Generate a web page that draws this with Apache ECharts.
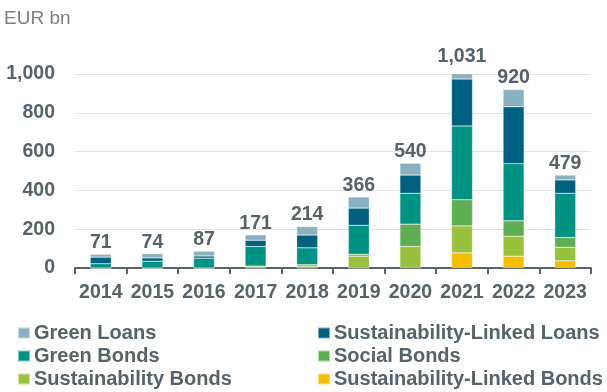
<!DOCTYPE html>
<html>
<head>
<meta charset="utf-8">
<script src="https://cdn.jsdelivr.net/npm/echarts@6/dist/echarts.min.js"></script>
<style>
html,body{margin:0;padding:0;background:#fff;}
#c{width:607px;height:392px;}
</style>
</head>
<body>
<div id="c"></div>
<script>
const years = ['2014','2015','2016','2017','2018','2019','2020','2021','2022','2023'];
const totals = [71, 74, 87, 171, 214, 366, 540, 1031, 920, 479];
const slBonds      = [0, 0, 0, 0, 0, 0, 2, 78, 61, 37];
const sustBonds    = [0, 0, 0, 10, 10, 61, 109, 139, 103, 70];
const socialBonds  = [0, 0, 0, 0, 7, 10, 115, 135, 79, 50];
const greenBonds   = [22, 35, 51, 101, 87, 149, 159, 380, 295, 228];
const slLoans      = [34, 17, 11, 32, 66, 89, 94, 242, 293, 69];
const greenLoans   = [15, 22, 25, 28, 44, 57, 61, 57, 89, 25];
const yTicks = [0, 200, 400, 600, 800, 1000];

const colors = {
  'Green Loans': '#8ab1bf',
  'Sustainability-Linked Loans': '#00607f',
  'Green Bonds': '#009384',
  'Social Bonds': '#5fae54',
  'Sustainability Bonds': '#98c13c',
  'Sustainability-Linked Bonds': '#f4bf00'
};

const font = 'Liberation Sans, Arial, sans-serif';
const txt = '#56636c';

function mk(name, data) {
  return {
    name: name,
    type: 'bar',
    stack: 'total',
    data: data,
    barWidth: 21,
    itemStyle: { color: colors[name], borderColor: 'rgba(255,255,255,0.5)', borderWidth: 0.5 },
    emphasis: { disabled: true }
  };
}

function leg(name, left, top) {
  return {
    data: [name], left: left, top: top, padding: 0,
    itemWidth: 12, itemHeight: 11, icon: 'rect', selectedMode: false,
    textStyle: { fontFamily: font, fontWeight: 'bold', fontSize: 20, color: txt, padding: [0, 0, 0, -1] }
  };
}

const chart = echarts.init(document.getElementById('c'), null, { renderer: 'canvas' });
chart.setOption({
  animation: false,
  textStyle: { fontFamily: font },
  title: {
    text: 'EUR bn', left: 4, top: 9, padding: 0,
    textStyle: { fontFamily: font, fontSize: 19, fontWeight: 'normal', color: '#7f7f7f' }
  },
  grid: { left: 75, right: 16, top: 74, bottom: 124 },
  xAxis: {
    type: 'category', data: years, boundaryGap: true,
    axisLine: { lineStyle: { color: '#56636c', width: 2 } },
    axisTick: { show: true, length: 6, lineStyle: { color: '#56636c', width: 2 } },
    axisLabel: { fontFamily: font, fontWeight: 'bold', fontSize: 19.5, color: txt, margin: 15, interval: 0 }
  },
  yAxis: {
    type: 'value', min: yTicks[0], max: yTicks[yTicks.length - 1], interval: 200,
    axisLine: { show: false }, axisTick: { show: false },
    splitLine: { lineStyle: { color: '#dde3e7', width: 1 } },
    axisLabel: {
      fontFamily: font, fontWeight: 'bold', fontSize: 19.5, color: txt, margin: 20,
      formatter: v => v.toLocaleString('en-US')
    }
  },
  legend: [
    leg('Green Loans', 17, 323),
    leg('Green Bonds', 17, 346),
    leg('Sustainability Bonds', 17, 369),
    leg('Sustainability-Linked Loans', 317, 323),
    leg('Social Bonds', 317, 346),
    leg('Sustainability-Linked Bonds', 317, 369)
  ],
  series: [
    mk('Sustainability-Linked Bonds', slBonds),
    mk('Sustainability Bonds', sustBonds),
    mk('Social Bonds', socialBonds),
    mk('Green Bonds', greenBonds),
    mk('Sustainability-Linked Loans', slLoans),
    mk('Green Loans', greenLoans),
    {
      name: 'Total', type: 'line', data: totals, clip: false,
      symbol: 'circle', symbolSize: 1, showSymbol: true,
      itemStyle: { color: 'rgba(0,0,0,0)', borderWidth: 0 },
      lineStyle: { color: 'rgba(0,0,0,0)', width: 0 }, silent: true,
      emphasis: { disabled: true },
      label: {
        show: true, position: 'top', distance: 1, opacity: 1,
        fontFamily: font, fontWeight: 'bold', fontSize: 19.5, color: txt,
        formatter: p => p.value.toLocaleString('en-US')
      }
    }
  ]
});
</script>
</body>
</html>
